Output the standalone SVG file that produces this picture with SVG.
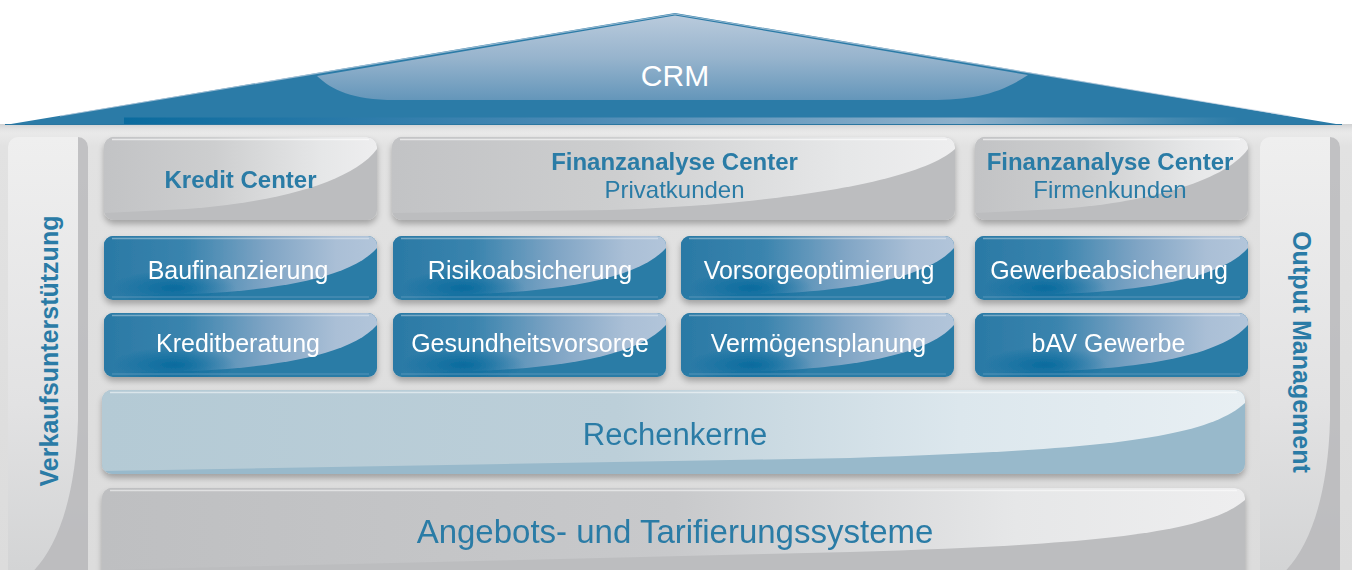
<svg xmlns="http://www.w3.org/2000/svg" xmlns:xlink="http://www.w3.org/1999/xlink" width="1352" height="570" viewBox="0 0 1352 570">
<defs>
<style>
.lbl{font-family:"Liberation Sans",Arial,sans-serif;text-anchor:middle}
.wt{fill:#ffffff;font-size:25px}
.bl{fill:#2a7ba6}
.bd{font-weight:bold}
</style>
<linearGradient id="body" x1="0" y1="0" x2="0" y2="1">
<stop offset="0" stop-color="#eeeeee"/><stop offset="0.05" stop-color="#e2e2e2"/><stop offset="1" stop-color="#dcdcdc"/>
</linearGradient>
<linearGradient id="blueGloss" x1="0" y1="0" x2="1" y2="0">
<stop offset="0" stop-color="#2a79a5"/><stop offset="0.3" stop-color="#3a84ae"/><stop offset="0.6" stop-color="#80a5c5"/><stop offset="0.85" stop-color="#aabfd6"/><stop offset="1" stop-color="#b2c5da"/>
</linearGradient>
<radialGradient id="blueSpot" cx="0.5" cy="0.5" r="0.5">
<stop offset="0" stop-color="#03689c" stop-opacity="0.9"/><stop offset="1" stop-color="#03689c" stop-opacity="0"/>
</radialGradient>
<linearGradient id="grayGloss" x1="0" y1="0" x2="1" y2="0">
<stop offset="0" stop-color="#c2c3c5"/><stop offset="0.4" stop-color="#cdcecf"/><stop offset="0.8" stop-color="#e6e7e8"/><stop offset="1" stop-color="#eeeeef"/>
</linearGradient>
<linearGradient id="rkGloss" x1="0" y1="0" x2="1" y2="0">
<stop offset="0" stop-color="#b4cad5"/><stop offset="0.45" stop-color="#bccfd9"/><stop offset="0.75" stop-color="#dce7ed"/><stop offset="1" stop-color="#e8eff3"/>
</linearGradient>
<linearGradient id="atGloss" x1="0" y1="0" x2="1" y2="0">
<stop offset="0" stop-color="#bebfc1"/><stop offset="0.5" stop-color="#c8c9cb"/><stop offset="0.8" stop-color="#e6e7e8"/><stop offset="1" stop-color="#eeeeef"/>
</linearGradient>
<linearGradient id="pillar" x1="0" y1="0" x2="0" y2="1">
<stop offset="0" stop-color="#efefef"/><stop offset="0.6" stop-color="#e2e2e3"/><stop offset="1" stop-color="#d2d3d4"/>
</linearGradient>
<linearGradient id="roofGloss" x1="0" y1="0" x2="0" y2="1">
<stop offset="0" stop-color="#b9cadc"/><stop offset="0.5" stop-color="#97b4cd"/><stop offset="1" stop-color="#6496ba"/>
</linearGradient>
<linearGradient id="roofBand" x1="0" y1="0" x2="1" y2="0">
<stop offset="0" stop-color="#0a6b9e"/><stop offset="0.4" stop-color="#4a89b4"/><stop offset="0.75" stop-color="#8fb1cb"/><stop offset="1" stop-color="#2b7ba7"/>
</linearGradient>
<linearGradient id="underRoof" x1="0" y1="0" x2="0" y2="1">
<stop offset="0" stop-color="#cfd0d1"/><stop offset="1" stop-color="#e4e4e4" stop-opacity="0"/>
</linearGradient>
<filter id="sh" x="-5%" y="-15%" width="110%" height="140%">
<feGaussianBlur in="SourceAlpha" stdDeviation="3"/>
<feOffset dy="4" result="o"/>
<feComponentTransfer><feFuncA type="linear" slope="0.28"/></feComponentTransfer>
<feMerge><feMergeNode/><feMergeNode in="SourceGraphic"/></feMerge>
</filter>
<clipPath id="cBlue"><rect x="0" y="0" width="273" height="64" rx="9"/></clipPath>
<clipPath id="cGray"><rect x="0" y="0" width="273" height="83" rx="10"/></clipPath>
<clipPath id="cPriv"><rect x="392" y="137" width="563" height="83" rx="10"/></clipPath>
<clipPath id="cRk"><rect x="102" y="390" width="1143" height="84" rx="10"/></clipPath>
<clipPath id="cAt"><rect x="102" y="488" width="1143" height="95" rx="10"/></clipPath>
<clipPath id="cPL"><rect x="8" y="137" width="80" height="445" rx="10"/></clipPath>
<clipPath id="cPR"><rect x="1260" y="137" width="80" height="445" rx="10"/></clipPath>
<symbol id="bluebox" width="273" height="64" overflow="visible">
<g clip-path="url(#cBlue)">
<rect x="0" y="0" width="273" height="64" fill="#2a7ba6"/>
<path d="M0,0 H273 V12 C246,43 166,55 83,58 L0,60 Z" fill="url(#blueGloss)"/>
<ellipse cx="70" cy="52" rx="62" ry="18" fill="url(#blueSpot)"/>
<path d="M8,2.5 H265" stroke="#ffffff" stroke-opacity="0.35" stroke-width="1.5"/>
<path d="M8,61 H265" stroke="#7aa9c8" stroke-opacity="0.6" stroke-width="1.2"/>
</g>
</symbol>
<symbol id="graybox" width="273" height="83" overflow="visible">
<g clip-path="url(#cGray)">
<rect x="0" y="0" width="273" height="83" fill="#bcbdbf"/>
<path d="M0,0 H273 V12 C248,46 168,66 83,72 L0,76 Z" fill="url(#grayGloss)"/>
<path d="M8,2.5 H265" stroke="#ffffff" stroke-opacity="0.6" stroke-width="1.5"/>
</g>
</symbol>
</defs>

<rect x="0" y="0" width="1352" height="570" fill="#ffffff"/>
<rect x="0" y="124" width="1352" height="446" fill="url(#body)"/>
<rect x="0" y="124" width="1352" height="10" fill="url(#underRoof)"/>

<g id="roof">
<polygon points="5,125 675,13 1342,125" fill="#2b7ba7"/>
<path d="M317,76 L675,15.5 L1028,75 C1000,94 972,100 930,100 L395,100 C352,100 332,90 317,76 Z" fill="url(#roofGloss)"/>
<path d="M60,116 L675,14 L1290,116" fill="none" stroke="#c4d3e2" stroke-width="1.2" stroke-opacity="0.7"/>
<rect x="124" y="117.5" width="1116" height="6.5" fill="url(#roofBand)"/>
<path d="M5,124.5 H1342" stroke="#2a76a0" stroke-width="1.2"/>
<text class="lbl" x="675" y="86" fill="#ffffff" font-size="30">CRM</text>
</g>

<g id="verkaufsunterstuetzung">
<g clip-path="url(#cPL)">
<rect x="8" y="137" width="80" height="445" fill="url(#pillar)"/>
<path d="M78,137 H88 V582 H20 C55,560 76,500 78,420 Z" fill="#b8b9bb" opacity="0.85"/>
</g>
<text class="lbl bl bd" font-size="25" transform="translate(58,351) rotate(-90)">Verkaufsunterstützung</text>
</g>

<g id="output-management">
<g clip-path="url(#cPR)">
<rect x="1260" y="137" width="80" height="445" fill="url(#pillar)"/>
<path d="M1330,137 H1340 V582 H1272 C1307,560 1328,500 1330,420 Z" fill="#b8b9bb" opacity="0.85"/>
</g>
<text class="lbl bl bd" font-size="25" transform="translate(1293,352) rotate(90)">Output Management</text>
</g>

<g id="kredit-center" filter="url(#sh)">
<use xlink:href="#graybox" x="104" y="137"/>
<text class="lbl bl bd" x="240.5" y="188" font-size="24">Kredit Center</text>
</g>

<g id="finanzanalyse-privat" filter="url(#sh)">
<g clip-path="url(#cPriv)">
<rect x="392" y="137" width="563" height="83" fill="#bcbdbf"/>
<path d="M392,137 H955 V149 C915,185 760,205 610,210 L392,213 Z" fill="url(#grayGloss)"/>
<path d="M400,139.5 H947" stroke="#ffffff" stroke-opacity="0.6" stroke-width="1.5"/>
</g>
<text class="lbl bl bd" x="674.5" y="170" font-size="24">Finanzanalyse Center</text>
<text class="lbl bl" x="674.5" y="198" font-size="24">Privatkunden</text>
</g>

<g id="finanzanalyse-firmen" filter="url(#sh)">
<use xlink:href="#graybox" x="975" y="137"/>
<text class="lbl bl bd" x="1110" y="170" font-size="24">Finanzanalyse Center</text>
<text class="lbl bl" x="1110" y="198" font-size="24">Firmenkunden</text>
</g>

<g id="baufinanzierung" filter="url(#sh)"><use xlink:href="#bluebox" x="104" y="236"/><text class="lbl wt" x="238" y="279">Baufinanzierung</text></g>
<g id="risikoabsicherung" filter="url(#sh)"><use xlink:href="#bluebox" x="393" y="236"/><text class="lbl wt" x="530" y="279">Risikoabsicherung</text></g>
<g id="vorsorgeoptimierung" filter="url(#sh)"><use xlink:href="#bluebox" x="681" y="236"/><text class="lbl wt" x="819" y="279">Vorsorgeoptimierung</text></g>
<g id="gewerbeabsicherung" filter="url(#sh)"><use xlink:href="#bluebox" x="975" y="236"/><text class="lbl wt" x="1109" y="279">Gewerbeabsicherung</text></g>
<g id="kreditberatung" filter="url(#sh)"><use xlink:href="#bluebox" x="104" y="313"/><text class="lbl wt" x="238" y="352">Kreditberatung</text></g>
<g id="gesundheitsvorsorge" filter="url(#sh)"><use xlink:href="#bluebox" x="393" y="313"/><text class="lbl wt" x="530" y="352">Gesundheitsvorsorge</text></g>
<g id="vermoegensplanung" filter="url(#sh)"><use xlink:href="#bluebox" x="681" y="313"/><text class="lbl wt" x="818.5" y="352">Vermögensplanung</text></g>
<g id="bav-gewerbe" filter="url(#sh)"><use xlink:href="#bluebox" x="975" y="313"/><text class="lbl wt" x="1108.5" y="352">bAV Gewerbe</text></g>

<g id="rechenkerne" filter="url(#sh)">
<g clip-path="url(#cRk)">
<rect x="102" y="390" width="1143" height="84" fill="#98b9cb"/>
<path d="M102,390 H1245 V403 C1205,440 1090,450 850,458 L102,471 Z" fill="url(#rkGloss)"/>
<path d="M110,392.5 H1237" stroke="#ffffff" stroke-opacity="0.5" stroke-width="1.5"/>
</g>
<text class="lbl bl" x="675" y="445" font-size="31">Rechenkerne</text>
</g>

<g id="angebots-tarifierung" filter="url(#sh)">
<g clip-path="url(#cAt)">
<rect x="102" y="488" width="1143" height="95" fill="#bcbdbf"/>
<path d="M102,488 H1245 V500 C1205,535 1080,545 850,552 L102,570 Z" fill="url(#atGloss)"/>
<path d="M110,490.5 H1237" stroke="#ffffff" stroke-opacity="0.5" stroke-width="1.5"/>
</g>
<text class="lbl bl" x="675" y="543" font-size="33">Angebots- und Tarifierungssysteme</text>
</g>

<g id="connectors"></g>
</svg>
